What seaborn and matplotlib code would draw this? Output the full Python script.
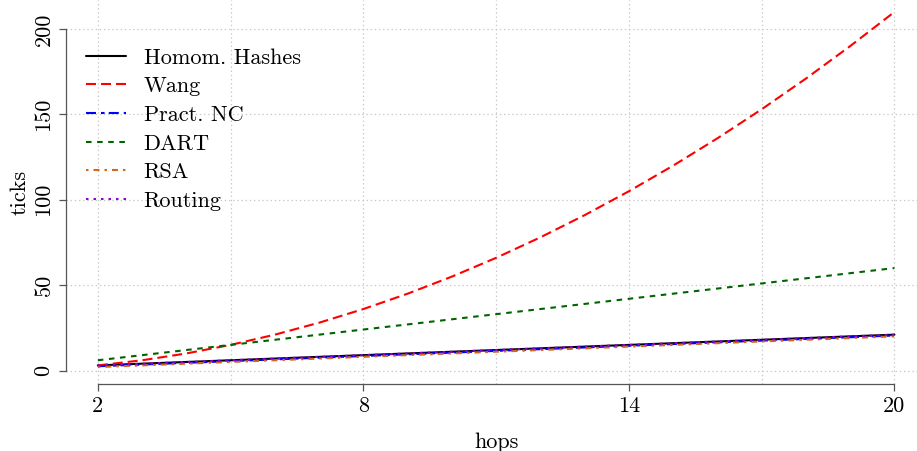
import matplotlib
matplotlib.use("Agg")
import matplotlib.pyplot as plt
import seaborn as sns
import pandas as pd

# Number of hops on the path
hops = [2, 3, 4, 5, 6, 7, 8, 9, 10, 11, 12, 13, 14, 15, 16, 17, 18, 19, 20]

# Verification cost (ticks) per scheme
homom = [3, 4, 5, 6, 7, 8, 9, 10, 11, 12, 13, 14, 15, 16, 17, 18, 19, 20, 21]
wang = [3, 6, 10, 15, 21, 28, 36, 45, 55, 66, 78, 91, 105, 120, 136, 153, 171, 190, 210]
pract_nc = [2.5, 3.5, 4.5, 5.5, 6.5, 7.5, 8.5, 9.5, 10.5, 11.5, 12.5, 13.5, 14.5,
            15.5, 16.5, 17.5, 18.5, 19.5, 20.5]
dart = [6, 9, 12, 15, 18, 21, 24, 27, 30, 33, 36, 39, 42, 45, 48, 51, 54, 57, 60]
rsa = [2, 3, 4, 5, 6, 7, 8, 9, 10, 11, 12, 13, 14, 15, 16, 17, 18, 19, 20]
routing = [3, 4, 5, 6, 7, 8, 9, 10, 11, 12, 13, 14, 15, 16, 17, 18, 19, 20, 21]

series_names = ["Homom. Hashes", "Wang", "Pract. NC", "DART", "RSA", "Routing"]
series_values = [homom, wang, pract_nc, dart, rsa, routing]
colors = ["#000000", "#ff0000", "#0000ff", "#006400", "#d2691e", "#9400d3"]
# dash patterns in points (on, off, ...)
line_styles = [
    "solid",
    (0, (7.2, 3.6)),
    (0, (7.2, 3.6, 2.6, 3.0)),
    (0, (4.0, 4.0)),
    (0, (1.8, 3.6, 4.3, 3.6)),
    (0, (1.8, 3.6)),
]

x_ticks = [2, 8, 14, 20]
x_minor = [5, 11, 17]
y_ticks = [0, 50, 100, 150, 200]

sns.set_style("white")
plt.rcParams["font.family"] = ["cmr10", "DejaVu Serif"]
plt.rcParams["axes.unicode_minus"] = False
plt.rcParams["lines.scale_dashes"] = False
plt.rcParams["axes.formatter.use_mathtext"] = True
plt.rcParams["text.color"] = "black"
plt.rcParams["axes.labelcolor"] = "black"
plt.rcParams["xtick.labelcolor"] = "black"
plt.rcParams["ytick.labelcolor"] = "black"

fig = plt.figure(figsize=(9.17, 4.51), dpi=100)
ax = fig.add_axes([66 / 917, 67 / 451, 851 / 917, 384 / 451])

for name, vals, col, ls in zip(series_names, series_values, colors, line_styles):
    df = pd.DataFrame({"hops": hops, "ticks": vals})
    sns.lineplot(data=df, x="hops", y="ticks", ax=ax, color=col,
                 linestyle=ls, linewidth=1.5, label=name)

ax.set_xlim(1.28, 20.51)
ax.set_ylim(-7.9, 217)

ax.set_xticks(x_ticks)
ax.set_xticks(x_minor, minor=True)
ax.set_yticks(y_ticks)
ax.set_xticklabels([str(t) for t in x_ticks])
ax.set_yticklabels([str(t) for t in y_ticks], rotation=90, va="center")

ax.grid(True, which="both", axis="x", color="#c8c8c8", linestyle=(0, (1, 2)), linewidth=0.9)
ax.grid(True, which="major", axis="y", color="#c8c8c8", linestyle=(0, (1, 2)), linewidth=0.9)
ax.set_axisbelow(True)

for side in ["top", "right"]:
    ax.spines[side].set_visible(False)
for side in ["left", "bottom"]:
    ax.spines[side].set_color("#555555")
    ax.spines[side].set_linewidth(0.9)
ax.spines["left"].set_bounds(0, 200)
ax.spines["bottom"].set_bounds(2, 20)

ax.tick_params(axis="both", which="major", direction="out", length=5, width=0.9,
               color="#555555", labelcolor="black", labelsize=16, pad=4,
               left=True, bottom=True)
ax.tick_params(axis="x", which="minor", length=0)

ax.set_xlabel("hops", fontsize=16, color="black")
ax.set_ylabel("ticks", fontsize=16, color="black")
ax.xaxis.set_label_coords((11 - 1.28) / (20.51 - 1.28), -0.125)
ax.yaxis.set_label_coords(-0.043, 0.5)

leg = ax.legend(loc="upper left", bbox_to_anchor=(0.0, 0.927), frameon=False,
                fontsize=16, handlelength=1.8, handletextpad=0.8,
                labelspacing=0.41, borderaxespad=0.5)
for t in leg.get_texts():
    t.set_color("black")

fig.savefig("out.png", dpi=100)
